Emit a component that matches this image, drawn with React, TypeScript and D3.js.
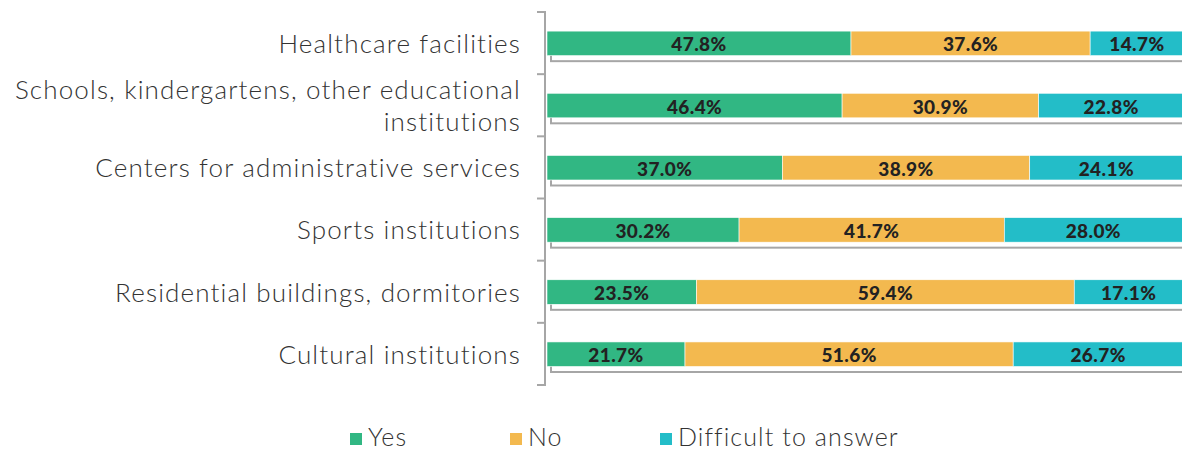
import React from "react";
import * as d3 from "d3";

const categories = [
  ["Healthcare facilities"],
  ["Schools, kindergartens, other educational", "institutions"],
  ["Centers for administrative services"],
  ["Sports institutions"],
  ["Residential buildings, dormitories"],
  ["Cultural institutions"],
];
const yesValues = [47.8, 46.4, 37.0, 30.2, 23.5, 21.7];
const noValues = [37.6, 30.9, 38.9, 41.7, 59.4, 51.6];
const diffValues = [14.7, 22.8, 24.1, 28.0, 17.1, 26.7];
const seriesNames = ["Yes", "No", "Difficult to answer"];
const colors = ["#31B783", "#F3B94F", "#23BDC8"];

const W = 1182;
const H = 450;
const labelFont = "Lato, 'Open Sans', sans-serif";

export default function App() {
  const keys = categories.map((c) => c.join(" "));
  const y = d3.scaleBand<string>().domain(keys).range([12, 385]).padding(0);
  const x = d3.scaleLinear().domain([0, 100]).range([547, 1183]);
  const barH = y.bandwidth() * 0.395;
  const series = [yesValues, noValues, diffValues];
  const axisX = 545;
  const gray = "#a6a6a6";
  const ticks = keys.map((k) => y(k)!).concat([y.range()[1]]);
  const legendX = [350, 510, 660];

  return (
    <svg width={W} height={H} style={{ display: "block", position: "absolute", left: 0, top: 0 }}>
      <rect width={W} height={H} fill="#fff" />
      {keys.map((k, i) => {
        const cy = y(k)! + y.bandwidth() / 2;
        const top = cy - barH / 2 + 0.3;
        let acc = 0;
        const n = categories[i].length;
        return (
          <g key={k}>
            <rect x={x(0) + 4} y={top + 5.5} width={x(100) - x(0)} height={barH} fill="none" stroke={gray} strokeWidth={2} />
            {series.map((s, j) => {
              const x0 = x(acc);
              acc += s[i];
              const x1 = x(acc);
              return (
                <g key={j}>
                  <rect x={x0} y={top} width={x1 - x0} height={barH} fill={colors[j]} stroke="#fff" strokeWidth={0.6} />
                  <text
                    x={(x0 + x1) / 2}
                    y={cy}
                    dy="0.44em"
                    textAnchor="middle"
                    fontFamily="Lato, 'Open Sans', sans-serif"
                    fontWeight={900}
                    fontSize={19}
                    letterSpacing={0.4}
                    fill="#222"
                  >
                    {s[i].toFixed(1)}%
                  </text>
                </g>
              );
            })}
            <text
              x={521}
              y={cy}
              textAnchor="end"
              fontFamily={labelFont}
              fontWeight={300}
              fontSize={26}
              letterSpacing={1.15}
              fill="#333"
            >
              {categories[i].map((line, li) => (
                <tspan key={li} x={521} dy={li === 0 ? `${0.38 - (n - 1) * 0.615}em` : "1.23em"}>
                  {line}
                </tspan>
              ))}
            </text>
          </g>
        );
      })}
      <line x1={axisX} x2={axisX} y1={ticks[0] - 1} y2={ticks[ticks.length - 1] + 1} stroke={gray} strokeWidth={2} />
      {ticks.map((t, i) => (
        <line key={i} x1={537} x2={axisX} y1={t} y2={t} stroke={gray} strokeWidth={2} />
      ))}
      {seriesNames.map((s, i) => (
        <g key={s}>
          <rect x={legendX[i]} y={433} width={12} height={12} fill={colors[i]} />
          <text x={legendX[i] + 18} y={446} fontFamily={labelFont} fontWeight={300} fontSize={25} letterSpacing={1.1} fill="#333">
            {s}
          </text>
        </g>
      ))}
    </svg>
  );
}
